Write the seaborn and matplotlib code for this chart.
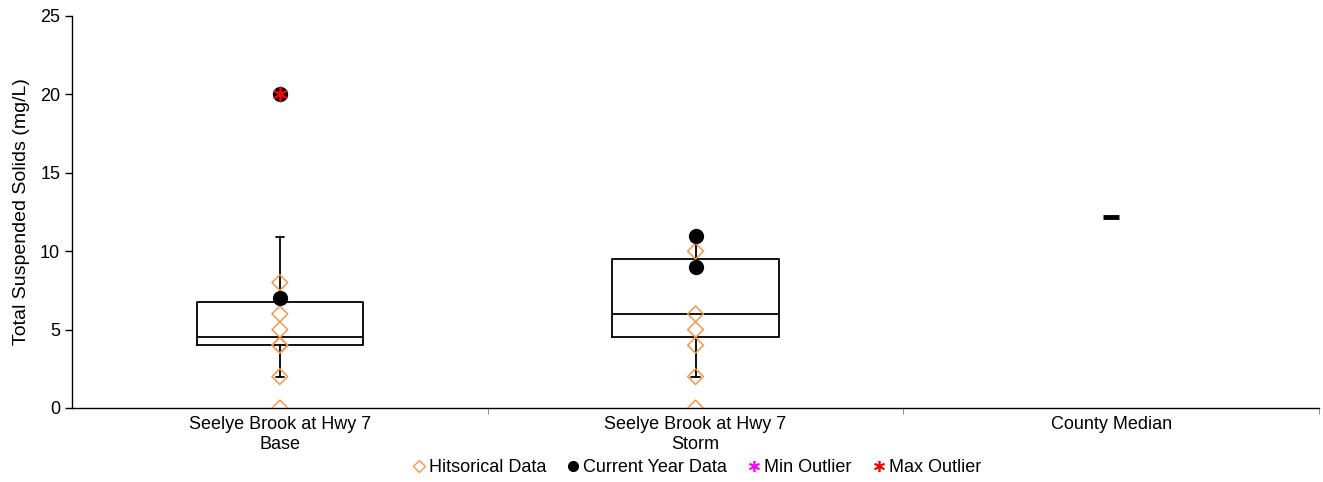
import numpy as np
import pandas as pd
import seaborn as sns
import matplotlib.pyplot as plt
from matplotlib.lines import Line2D

# categories on the x axis
sites = ["Seelye Brook at Hwy 7\nBase", "Seelye Brook at Hwy 7\nStorm", "County Median"]

# box summaries (mg/L) for the two sites
box_low = [2, 2]
box_q1 = [4, 4.5]
box_med = [4.5, 6]
box_q3 = [6.75, 9.5]
box_high = [10.9, 11]

# historical samples
hist_base = [0, 2, 4, 4, 5, 6, 8]
hist_storm = [0, 2, 4, 5, 6, 10]

# current year samples
cur_base = [7, 20]
cur_storm = [9, 11]

# outliers
max_out_site = [sites[0]]
max_out_val = [20]

county_median = 12.2

orange = "#F79646"

sns.set_style("ticks")
plt.rcParams["font.family"] = ["Liberation Sans", "DejaVu Sans"]
plt.rcParams["font.size"] = 13
plt.rcParams["text.color"] = "black"
plt.rcParams["axes.labelcolor"] = "black"
plt.rcParams["xtick.color"] = "black"
plt.rcParams["ytick.color"] = "black"

fig = plt.figure(figsize=(13.23, 4.82), dpi=100)
ax = fig.add_axes([72 / 1323, 74 / 482, 1247 / 1323, 392 / 482])

df_hist = pd.DataFrame({
    "site": [sites[0]] * len(hist_base) + [sites[1]] * len(hist_storm),
    "value": hist_base + hist_storm,
})
df_cur = pd.DataFrame({
    "site": [sites[0]] * len(cur_base) + [sites[1]] * len(cur_storm),
    "value": cur_base + cur_storm,
})
df_med = pd.DataFrame({"site": [sites[2]], "value": [county_median]})
df_max = pd.DataFrame({"site": max_out_site, "value": max_out_val})

# boxes from the summary values
stats = []
for i in range(2):
    stats.append({"whislo": box_low[i], "q1": box_q1[i], "med": box_med[i],
                  "q3": box_q3[i], "whishi": box_high[i], "fliers": []})
line = dict(color="black", linewidth=1.3)
ax.bxp(stats, positions=[0, 1], widths=0.4, capwidths=0.02, showfliers=False,
       boxprops=line, medianprops=line, whiskerprops=line, capprops=line,
       manage_ticks=False, zorder=2)

# historical data, hollow diamonds
n0 = len(ax.collections)
sns.stripplot(data=df_hist, x="site", y="value", order=sites, jitter=False,
              marker="D", s=8, color=orange, edgecolor=orange, linewidth=1.1,
              ax=ax, zorder=3)
for pts in ax.collections[n0:]:
    pts.set_facecolor("none")
    pts.set_edgecolor(orange)

# current year data
sns.stripplot(data=df_cur, x="site", y="value", order=sites, jitter=False,
              marker="o", s=11, color="black", edgecolor="black", linewidth=0,
              ax=ax, zorder=4)

# max outlier
sns.stripplot(data=df_max, x="site", y="value", order=sites, jitter=False,
              marker=(6, 2, 0), s=10, color="red", edgecolor="red", linewidth=1.3,
              ax=ax, zorder=5)

# county median dash
sns.stripplot(data=df_med, x="site", y="value", order=sites, jitter=False,
              marker="_", s=11, color="black", edgecolor="black", linewidth=3.5,
              ax=ax, zorder=4)

ax.set_xlim(-0.5, 2.5)
ax.set_ylim(0, 25)
ax.set_yticks(range(0, 26, 5))
ax.set_xticks(range(len(sites)))
ax.set_xticklabels(sites)
ax.set_xticks([0.5, 1.5, 2.5], minor=True)
ax.tick_params(axis="x", which="major", length=0, pad=6)
ax.tick_params(axis="x", which="minor", length=4, color="gray", direction="out")
ax.tick_params(axis="y", length=5, width=1, color="black", direction="out")
ax.set_xlabel("")
ax.set_ylabel("Total Suspended Solids (mg/L)", fontsize=14, labelpad=7)
sns.despine(ax=ax)
for s in ["left", "bottom"]:
    ax.spines[s].set_color("black")
    ax.spines[s].set_linewidth(1)

handles = [
    Line2D([], [], linestyle="none", marker="D", markersize=6, markerfacecolor="none",
           markeredgecolor=orange, markeredgewidth=1),
    Line2D([], [], linestyle="none", marker="o", markersize=7, color="black"),
    Line2D([], [], linestyle="none", marker=(6, 2, 0), markersize=8, color="magenta",
           markeredgewidth=1.2),
    Line2D([], [], linestyle="none", marker=(6, 2, 0), markersize=8, color="red",
           markeredgewidth=1.2),
]
labels = ["Hitsorical Data", "Current Year Data", "Min Outlier", "Max Outlier"]
ax.legend(handles, labels, loc="center", bbox_to_anchor=(0.5, -0.153), ncol=4,
          frameon=False, handletextpad=0.05, columnspacing=1.0, handlelength=1)

fig.savefig("out.png", dpi=100)
